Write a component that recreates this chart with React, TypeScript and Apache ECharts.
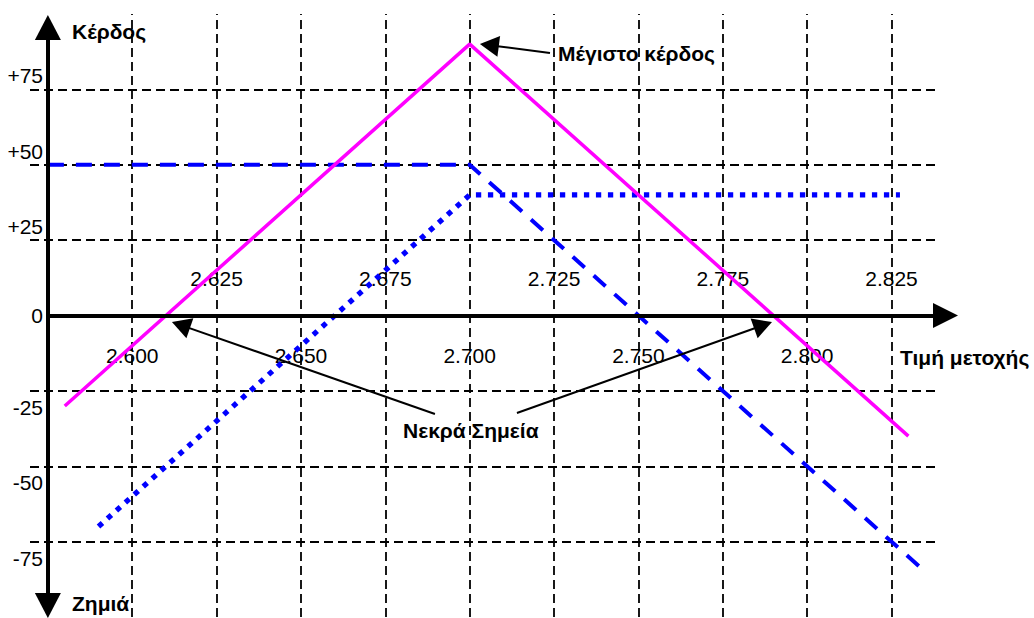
import React, { useEffect, useRef } from "react";
import * as echarts from "echarts";

// ---- axis ranges ----
const priceMin = 2.5697;
const priceMax = 2.845;
const profitMin = -100;
const profitMax = 100;

// ---- tick labels ----
const lowerPriceLabels = [2.6, 2.65, 2.7, 2.75, 2.8];
const upperPriceLabels = [2.625, 2.675, 2.725, 2.775, 2.825];
const positiveProfitLabels = [25, 50, 75];
const negativeProfitLabels = [-25, -50, -75];
const zeroProfitLabel = [0];

// ---- grid lines ----
const gridPrices = [2.6, 2.625, 2.65, 2.675, 2.7, 2.725, 2.75, 2.775, 2.8, 2.825];
const gridProfits = [75, 50, 25, -25, -50, -75];
const hGridStart = 2.5697;
const hGridEnd = 2.8379;
const vGridStart = -100;
const vGridEnd = 100;

// ---- series (price, profit) ----
const straddlePrices = [2.58, 2.7, 2.83];
const straddleProfits = [-30, 90, -40];
const shortCallPrices = [2.575, 2.7, 2.8335];
const shortCallProfits = [50, 50, -83.5];
const shortPutPrices = [2.59, 2.7, 2.8275];
const shortPutProfits = [-70, 40, 40];

// ---- annotation arrows: [tailPrice, tailProfit, headPrice, headProfit] ----
const peakArrow = [2.72379, 87.06, 2.70582, 89.65];
const leftBreakArrow = [2.6897, -32.67, 2.61442, -3.18];
const rightBreakArrow = [2.714, -32.34, 2.78694, -3.22];

// ---- axis arrows ----
const xAxisArrow = [2.575, 0, 2.841, 0];
const yAxisArrow = [2.575, -96.2, 2.575, 95.5];

const FONT = "'Liberation Sans', Arial, sans-serif";
const BOLD = "bold 21px 'Liberation Sans', Arial, sans-serif";

const zip = (xs: number[], ys: number[]) => xs.map((x, i) => [x, ys[i]]);

export default function App() {
  const ref = useRef<HTMLDivElement>(null);

  useEffect(() => {
    if (!ref.current) return;
    const chart = echarts.init(ref.current, null, { renderer: "svg" });

    const labelBase = { color: "#000", fontSize: 21, fontFamily: FONT };
    const hiddenAxisParts = {
      axisLine: { show: false, onZero: false },
      axisTick: { show: false },
      splitLine: { show: false },
    };

    const xAxisCommon = {
      type: "value",
      min: priceMin,
      max: priceMax,
      position: "bottom",
      offset: -301.5,
      ...hiddenAxisParts,
    };
    const yAxisCommon = {
      type: "value",
      min: profitMin,
      max: profitMax,
      position: "left",
      offset: -18,
      ...hiddenAxisParts,
    };

    const gridLines: any[] = [];
    gridPrices.forEach((p) =>
      gridLines.push([{ coord: [p, vGridStart] }, { coord: [p, vGridEnd] }])
    );
    gridProfits.forEach((v) =>
      gridLines.push([{ coord: [hGridStart, v] }, { coord: [hGridEnd, v] }])
    );

    const arrowLine = (a: number[], size: number[], width: number, both = false) => [
      {
        coord: [a[0], a[1]],
        symbol: both ? "triangle" : "none",
        symbolSize: size,
        lineStyle: { color: "#000", width, type: "solid" },
      },
      { coord: [a[2], a[3]], symbol: "triangle", symbolSize: size },
    ];

    chart.setOption({
      animation: false,
      backgroundColor: "#fff",
      grid: {
        left: 30,
        right: 75,
        top: 14,
        bottom: 1,
        containLabel: false,
        outerBoundsMode: "none",
      },
      xAxis: [
        {
          ...xAxisCommon,
          axisLabel: {
            ...labelBase,
            customValues: lowerPriceLabels,
            margin: 29,
            formatter: (v: number) => v.toFixed(3),
          },
        },
        {
          ...xAxisCommon,
          axisLabel: {
            ...labelBase,
            customValues: upperPriceLabels,
            inside: true,
            margin: 27,
            formatter: (v: number) => v.toFixed(3),
          },
        },
      ],
      yAxis: [
        {
          ...yAxisCommon,
          axisLabel: {
            ...labelBase,
            customValues: positiveProfitLabels,
            margin: 5,
            verticalAlign: "bottom",
            padding: [0, 0, 3, 0],
            formatter: (v: number) => "+" + v,
          },
        },
        {
          ...yAxisCommon,
          axisLabel: {
            ...labelBase,
            customValues: negativeProfitLabels,
            margin: 5,
            verticalAlign: "top",
            padding: [6, 0, 0, 0],
            formatter: (v: number) => String(v),
          },
        },
        {
          ...yAxisCommon,
          axisLabel: {
            ...labelBase,
            customValues: zeroProfitLabel,
            margin: 5,
            verticalAlign: "middle",
            formatter: (v: number) => String(v),
          },
        },
      ],
      series: [
        {
          type: "line",
          data: [],
          silent: true,
          clip: false,
          markLine: {
            silent: true,
            z: 1,
            symbol: ["none", "none"],
            label: { show: false },
            emphasis: { disabled: true },
            animation: false,
            lineStyle: { color: "#000", width: 1.8, type: [9, 5] },
            data: gridLines,
          },
        },
        {
          type: "line",
          data: zip(shortCallPrices, shortCallProfits),
          symbol: "none",
          silent: true,
          clip: false,
          z: 2,
          lineStyle: { color: "#0000FF", width: 4, type: [16, 12] },
        },
        {
          type: "line",
          data: zip(shortPutPrices, shortPutProfits),
          symbol: "none",
          silent: true,
          clip: false,
          z: 2,
          lineStyle: { color: "#0000FF", width: 5.3, type: [5.3, 6.7], cap: "butt" },
        },
        {
          type: "line",
          data: zip(straddlePrices, straddleProfits),
          symbol: "none",
          silent: true,
          clip: false,
          z: 3,
          lineStyle: { color: "#FF00FF", width: 3.5, type: "solid" },
        },
        {
          type: "line",
          data: [],
          silent: true,
          clip: false,
          markLine: {
            silent: true,
            z: 5,
            label: { show: false },
            emphasis: { disabled: true },
            animation: false,
            itemStyle: { color: "#000" },
            lineStyle: { color: "#000", width: 2, type: "solid" },
            data: [
              arrowLine(xAxisArrow, [25, 25], 4),
              arrowLine(yAxisArrow, [26, 25], 4, true),
              arrowLine(peakArrow, [21, 19], 2),
              arrowLine(leftBreakArrow, [21, 19], 2),
              arrowLine(rightBreakArrow, [21, 19], 2),
            ],
          },
        },
      ],
      graphic: [
        { type: "text", x: 72, y: 31, style: { text: "Κέρδος", font: BOLD, fill: "#000", verticalAlign: "middle" } },
        { type: "text", x: 72, y: 603, style: { text: "Ζημιά", font: BOLD, fill: "#000", verticalAlign: "middle" } },
        { type: "text", x: 558, y: 53, style: { text: "Μέγιστο κέρδος", font: BOLD, fill: "#000", verticalAlign: "middle" } },
        { type: "text", x: 403, y: 430, style: { text: "Νεκρά Σημεία", font: BOLD, fill: "#000", verticalAlign: "middle" } },
        { type: "text", x: 900, y: 357, style: { text: "Τιμή μετοχής", font: BOLD, fill: "#000", verticalAlign: "middle" } },
      ],
    });

    return () => chart.dispose();
  }, []);

  return (
    <div
      ref={ref}
      style={{ position: "fixed", left: 0, top: 0, width: 1034, height: 618 }}
    />
  );
}
